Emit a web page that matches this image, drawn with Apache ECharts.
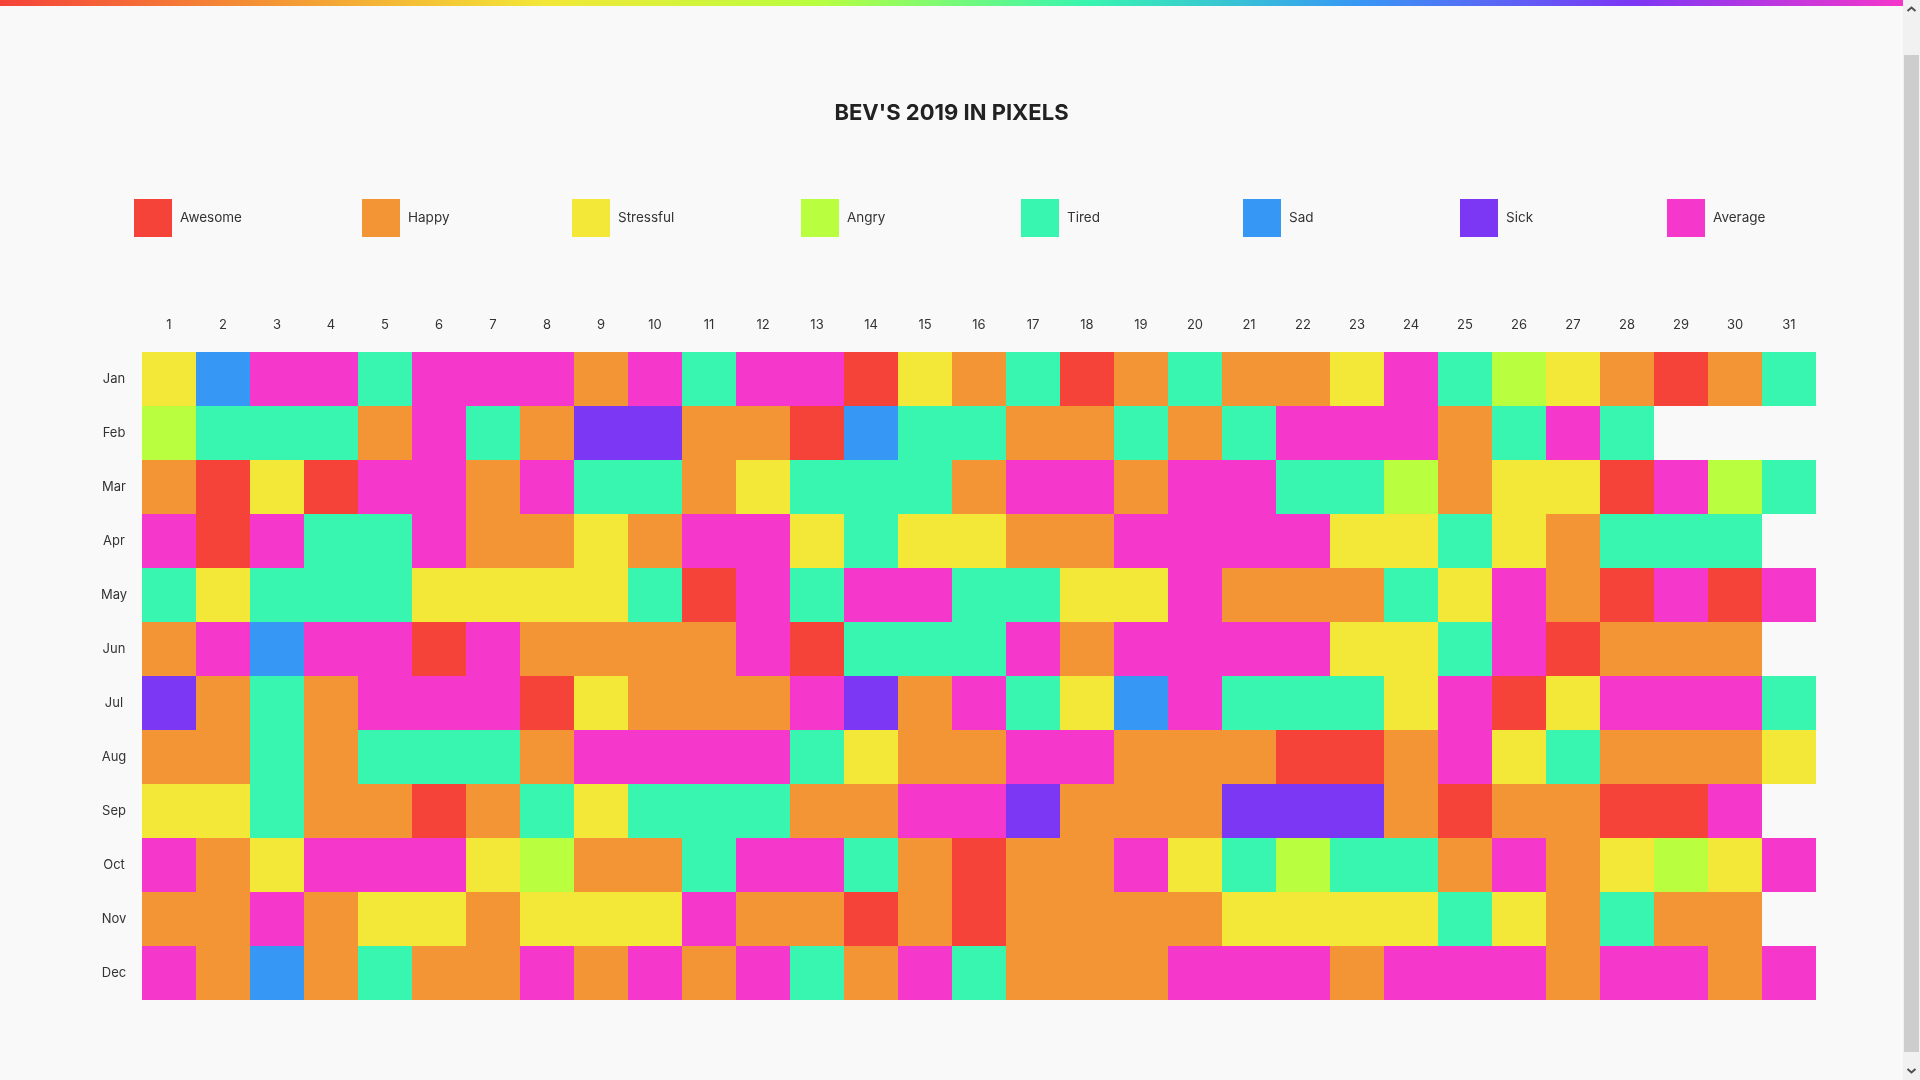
<!DOCTYPE html>
<html>
<head>
<meta charset="utf-8">
<script src="https://cdn.jsdelivr.net/npm/echarts@6/dist/echarts.min.js"></script>
<style>
  html, body { margin: 0; padding: 0; overflow: hidden; background: #f9f9f9; }
  #wrap { display: flex; width: 1920px; height: 1080px; }
  #chart { width: 1903px; height: 1080px; }
  #sb { position: relative; width: 17px; height: 1080px; background: #f1f1f1; }
  #thumb { position: absolute; left: 1px; top: 55px; width: 15px; height: 997px; background: #cdcdcd; }
  #sb svg { position: absolute; left: 0; }
</style>
</head>
<body>
<div id="wrap">
  <div id="chart"></div>
  <div id="sb">
    <svg style="top:4px" width="17" height="10"><polyline points="4.5,7 8.5,3.5 12.5,7" fill="none" stroke="#505050" stroke-width="2"/></svg>
    <div id="thumb"></div>
    <svg style="top:1066px" width="17" height="10"><polyline points="4.5,3 8.5,6.5 12.5,3" fill="none" stroke="#505050" stroke-width="2"/></svg>
  </div>
</div>
<script>
// ---- data ----
const days = ['1','2','3','4','5','6','7','8','9','10','11','12','13','14','15','16',
              '17','18','19','20','21','22','23','24','25','26','27','28','29','30','31'];
const months = ['Jan','Feb','Mar','Apr','May','Jun','Jul','Aug','Sep','Oct','Nov','Dec'];

const moodNames = ['Awesome','Happy','Stressful','Angry','Tired','Sad','Sick','Average'];
// codes used in the month arrays below
const moodCodes = ['A','H','S','G','T','D','K','V'];
const moodColors = ['#f5433a','#f49535','#f3e737','#b9fe3f','#38f5b0','#3797f5','#7c37f5','#f537cb'];

const jan = ['S','D','V','V','T','V','V','V','H','V','T','V','V','A','S','H','T','A','H','T','H','H','S','V','T','G','S','H','A','H','T'];
const feb = ['G','T','T','T','H','V','T','H','K','K','H','H','A','D','T','T','H','H','T','H','T','V','V','V','H','T','V','T'];
const mar = ['H','A','S','A','V','V','H','V','T','T','H','S','T','T','T','H','V','V','H','V','V','T','T','G','H','S','S','A','V','G','T'];
const apr = ['V','A','V','T','T','V','H','H','S','H','V','V','S','T','S','S','H','H','V','V','V','V','S','S','T','S','H','T','T','T'];
const may = ['T','S','T','T','T','S','S','S','S','T','A','V','T','V','V','T','T','S','S','V','H','H','H','T','S','V','H','A','V','A','V'];
const jun = ['H','V','D','V','V','A','V','H','H','H','H','V','A','T','T','T','V','H','V','V','V','V','S','S','T','V','A','H','H','H'];
const jul = ['K','H','T','H','V','V','V','A','S','H','H','H','V','K','H','V','T','S','D','V','T','T','T','S','V','A','S','V','V','V','T'];
const aug = ['H','H','T','H','T','T','T','H','V','V','V','V','T','S','H','H','V','V','H','H','H','A','A','H','V','S','T','H','H','H','S'];
const sep = ['S','S','T','H','H','A','H','T','S','T','T','T','H','H','V','V','K','H','H','H','K','K','K','H','A','H','H','A','A','V'];
const oct = ['V','H','S','V','V','V','S','G','H','H','T','V','V','T','H','A','H','H','V','S','T','G','T','T','H','V','H','S','G','S','V'];
const nov = ['H','H','V','H','S','S','H','S','S','S','V','H','H','A','H','A','H','H','H','H','S','S','S','S','T','S','H','T','H','H'];
const dec = ['V','H','D','H','T','H','H','V','H','V','H','V','T','H','V','T','H','H','H','V','V','V','H','V','V','V','H','V','V','H','V'];
const year = [jan, feb, mar, apr, may, jun, jul, aug, sep, oct, nov, dec];

// ---- layout ----
const legendLeft = [134, 362, 572, 801, 1021, 1243, 1460, 1667];
const FONT = 'Inter, "Noto Sans", sans-serif';

function cellsFor(code) {
  const out = [];
  year.forEach((row, mi) => {
    row.forEach((c, di) => { if (c === code) out.push([di, mi]); });
  });
  return out;
}

function renderCell(params, api) {
  const p = api.coord([api.value(0), api.value(1)]);
  const s = api.size([1, 1]);
  return {
    type: 'rect',
    shape: { x: p[0] - s[0] / 2, y: p[1] - s[1] / 2, width: s[0], height: s[1] },
    style: { fill: api.visual('color') }
  };
}

const chart = echarts.init(document.getElementById('chart'), null, { renderer: 'canvas' });

chart.setOption({
  backgroundColor: '#f9f9f9',
  animation: false,
  title: {
    text: "BEV'S 2019 IN PIXELS",
    left: 'center',
    top: 97,
    textStyle: { fontFamily: FONT, fontSize: 22, fontWeight: 'bold', color: '#222' }
  },
  legend: moodNames.map((n, i) => ({
    data: [n],
    left: legendLeft[i],
    top: 199,
    padding: 0,
    icon: 'rect',
    itemWidth: 38,
    itemHeight: 38,
    selectedMode: false,
    textStyle: { fontFamily: FONT, fontSize: 13.5, color: '#333', padding: [2, 0, 0, 3] }
  })),
  grid: { left: 142, top: 352, width: 1674, height: 648 },
  xAxis: {
    type: 'category',
    data: days,
    position: 'top',
    axisLine: { show: false },
    axisTick: { show: false },
    splitLine: { show: false },
    axisLabel: { margin: 27, verticalAlign: 'middle', fontFamily: FONT, fontSize: 13, color: '#333', interval: 0 }
  },
  yAxis: {
    type: 'category',
    data: months,
    inverse: true,
    axisLine: { show: false },
    axisTick: { show: false },
    splitLine: { show: false },
    axisLabel: { margin: 28, align: 'center', fontFamily: FONT, fontSize: 13, color: '#333', interval: 0 }
  },
  graphic: [{
    type: 'rect',
    left: 0, top: 0,
    shape: { width: 1903, height: 6 },
    style: {
      fill: new echarts.graphic.LinearGradient(0, 0, 1, 0,
        moodColors.map((c, i) => ({ offset: i / (moodColors.length - 1), color: c })))
    },
    silent: true
  }],
  series: moodCodes.map((code, i) => ({
    type: 'custom',
    name: moodNames[i],
    renderItem: renderCell,
    encode: { x: 0, y: 1 },
    itemStyle: { color: moodColors[i] },
    data: cellsFor(code),
    silent: true
  }))
});
</script>
</body>
</html>
